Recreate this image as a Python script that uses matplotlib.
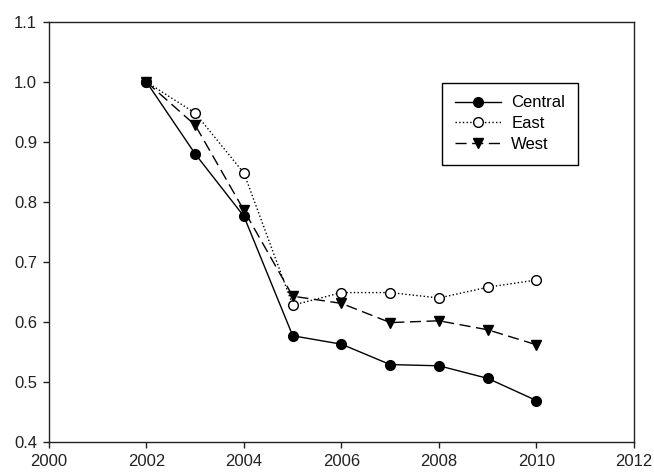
import matplotlib
matplotlib.use("Agg")
import matplotlib.pyplot as plt
from matplotlib.ticker import FormatStrFormatter

plt.rcParams['font.family'] = ['Liberation Sans', 'DejaVu Sans']

years = [2002, 2003, 2004, 2005, 2006, 2007, 2008, 2009, 2010]
central = [1.000, 0.880, 0.776, 0.577, 0.563, 0.529, 0.527, 0.506, 0.469]
east = [1.000, 0.948, 0.848, 0.628, 0.649, 0.649, 0.640, 0.658, 0.670]
west = [1.000, 0.928, 0.786, 0.643, 0.631, 0.599, 0.602, 0.587, 0.562]

fig = plt.figure(figsize=(6.54, 4.72), dpi=100)
ax = fig.add_axes([0.0749, 0.0636, 0.8945, 0.8898])

ax.plot(years, central, '-', color='black', lw=1.0, marker='o', ms=7,
        mfc='black', mec='black', label='Central', zorder=4)
ax.plot(years, east, ':', color='black', lw=1.0, marker='o', ms=7,
        mfc='white', mec='black', label='East', zorder=2)
ax.plot(years, west, color='black', lw=1.0, ls=(0, (8, 4)), marker='v', ms=7.5,
        mfc='black', mec='black', label='West', zorder=3)

ax.set_xlim(2000, 2012)
ax.set_ylim(0.4, 1.1)
ax.set_xticks(range(2000, 2013, 2))
ax.set_yticks([0.4, 0.5, 0.6, 0.7, 0.8, 0.9, 1.0, 1.1])
ax.yaxis.set_major_formatter(FormatStrFormatter('%.1f'))
ax.tick_params(direction='out', length=4.5, width=1, labelsize=12, pad=4,
               top=False, right=False, colors='#222222')
for s in ax.spines.values():
    s.set_linewidth(1.0)
    s.set_color('#222222')

leg = ax.legend(loc='upper left', bbox_to_anchor=(0.672, 0.855), borderaxespad=0,
                fancybox=False, edgecolor='black', fontsize=12, handlelength=2.8,
                borderpad=0.75, labelspacing=0.35, handletextpad=0.6, framealpha=1)
leg.get_frame().set_linewidth(1.0)

fig.savefig('out.png', dpi=100)
